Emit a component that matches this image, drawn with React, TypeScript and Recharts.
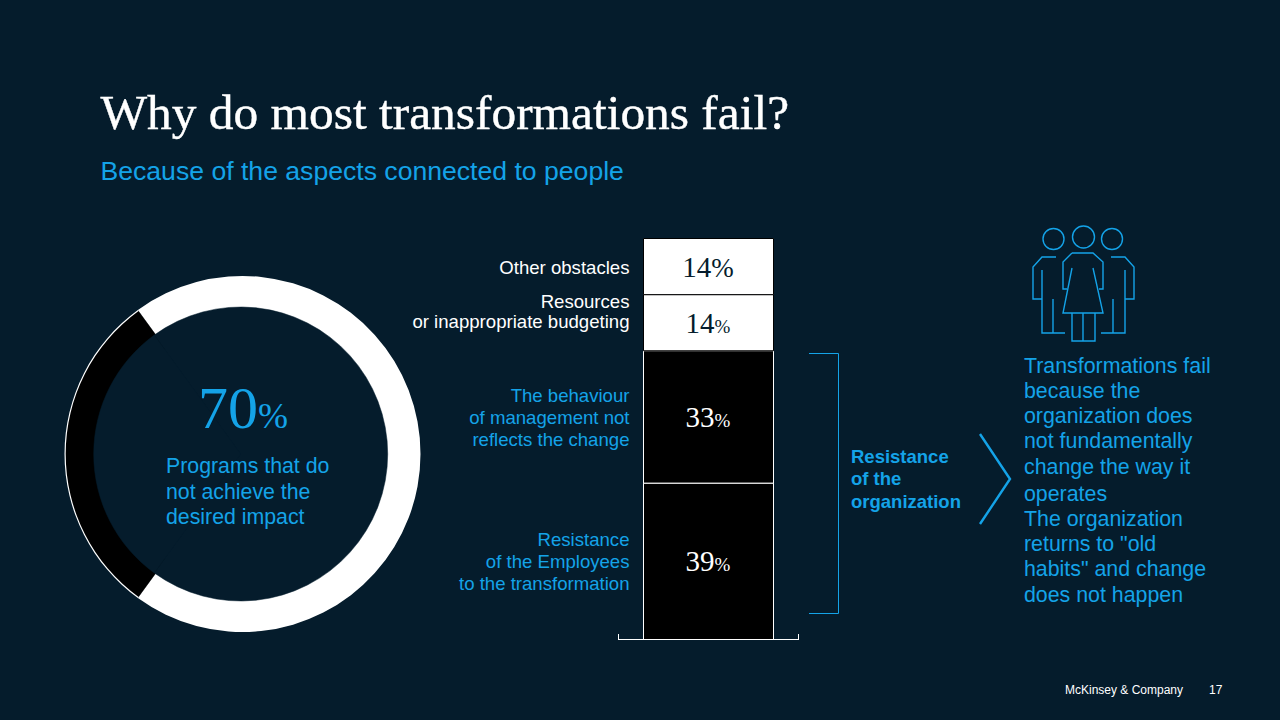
import React from "react";
import { BarChart, Bar, XAxis, YAxis, LabelList, PieChart, Pie, Cell } from "recharts";

const outcomeNames = ["Programs that do not achieve the desired impact", "Other programs"];
const outcomeValues = [70, 30];
const stackCategory = ["Obstacles"];
const obstacleNames = ["Resistance of the Employees", "Behaviour of management", "Resources", "Other obstacles"];
const obstacleValues = [39, 33, 14, 14];

const pieData = outcomeNames.map((name, i) => ({ name, value: outcomeValues[i] }));
const barData = stackCategory.map((category) => {
  const row: Record<string, string | number> = { category };
  obstacleNames.forEach((n, i) => (row[n] = obstacleValues[i]));
  return row;
});

const BG = "#051c2c";
const BLUE = "#14a3e8";
const SANS = "'Liberation Sans', Arial, sans-serif";
const SERIF = "'Liberation Serif', serif";

const barStyles = [
  { fill: "#000000", stroke: "#ffffff", text: "#ffffff", pct: 19 },
  { fill: "#000000", stroke: "#ffffff", text: "#ffffff", pct: 19 },
  { fill: "#ffffff", stroke: "#000000", text: "#051c2c", pct: 19 },
  { fill: "#ffffff", stroke: "#000000", text: "#051c2c", pct: 27 },
];

const makeLabel = (i: number) => (props: any) => {
  const { x, y, width, height, value } = props;
  const s = barStyles[i];
  return (
    <text x={x + width / 2 - 0.5} y={y + height / 2 + 10} textAnchor="middle" fill={s.text} fontFamily={SERIF} fontSize={29}>
      {value}
      <tspan fontSize={s.pct}>%</tspan>
    </text>
  );
};

const lines = (arr: string[], x: number, ys: number[], size: number, fill: string, anchor: "start" | "end", weight = 400) =>
  arr.map((t, i) => (
    <text key={t} x={x} y={ys[i]} fontFamily={SANS} fontSize={size} fill={fill} textAnchor={anchor} fontWeight={weight}>
      {t}
    </text>
  ));

const rightText = [
  "Transformations fail", "because the", "organization does", "not fundamentally", "change the way it",
  "operates", "The organization", 'returns to "old', "habits\" and change", "does not happen",
];
const rightYs = [373, 398, 423, 448, 474, 501, 526, 551, 576, 602];

export default function App() {
  return (
    <div style={{ position: "fixed", left: 0, top: 0, width: 1280, height: 720, background: BG, overflow: "hidden" }}>
      <div style={{ position: "absolute", left: 52, top: 264 }}>
        <PieChart width={380} height={380} margin={{ top: 0, right: 0, bottom: 0, left: 0 }}>
          <Pie data={pieData} dataKey="value" cx={190.5} cy={190} innerRadius={130} outerRadius={178} startAngle={126} endAngle={-234} stroke="none" isAnimationActive={false}>
            <Cell fill="#ffffff" />
            <Cell fill="#ffffff" />
          </Pie>
          <Pie data={pieData} dataKey="value" cx={190.5} cy={190} innerRadius={130} outerRadius={176.8} startAngle={126} endAngle={-234} stroke="none" isAnimationActive={false}>
            <Cell fill="transparent" />
            <Cell fill="#000000" />
          </Pie>
          <Pie data={pieData} dataKey="value" cx={188.7} cy={190} innerRadius={0} outerRadius={147} startAngle={126} endAngle={-234} stroke={BG} strokeWidth={0.5} isAnimationActive={false}>
            <Cell fill={BG} />
            <Cell fill={BG} />
          </Pie>
        </PieChart>
      </div>

      <div style={{ position: "absolute", left: 618, top: 229 }}>
        <BarChart width={181} height={420} data={barData} margin={{ top: 9.5, right: 0.5, bottom: 8.5, left: 0.5 }} barSize={130}>
          <XAxis dataKey="category" tick={false} tickLine={false} height={1} axisLine={{ stroke: "#ffffff", strokeWidth: 1 }} />
          <YAxis hide domain={[0, 100]} />
          {obstacleNames.map((n, i) => (
            <Bar key={n} dataKey={n} stackId="a" fill={barStyles[i].fill} stroke={barStyles[i].stroke} strokeWidth={1} isAnimationActive={false}>
              <LabelList dataKey={n} content={makeLabel(i)} />
            </Bar>
          ))}
        </BarChart>
      </div>

      <svg width={1280} height={720} style={{ position: "absolute", left: 0, top: 0, pointerEvents: "none" }}>
        <text x={100.5} y={129} fontFamily={SERIF} fontSize={49.4} fill="#ffffff" stroke="#ffffff" strokeWidth={0.4}>Why do most transformations fail?</text>
        <text x={100.5} y={180} fontFamily={SANS} fontSize={26.6} fill={BLUE}>Because of the aspects connected to people</text>

        <text x={243} y={428} textAnchor="middle" fontFamily={SERIF} fontSize={60} fill={BLUE}>
          70<tspan fontSize={36}>%</tspan>
        </text>
        {lines(["Programs that do", "not achieve the", "desired impact"], 166, [473, 499, 524], 21.3, BLUE, "start")}

        {lines(["Other obstacles"], 629.5, [274], 18.6, "#ffffff", "end")}
        {lines(["Resources", "or inappropriate budgeting"], 629.5, [308, 328], 18.6, "#ffffff", "end")}
        {lines(["The behaviour", "of management not", "reflects the change"], 629.5, [402, 424, 446], 18.6, BLUE, "end")}
        {lines(["Resistance", "of the Employees", "to the transformation"], 629.5, [546, 568, 590], 18.6, BLUE, "end")}

        <g fill="none" stroke="#ffffff" strokeWidth={1}>
          <line x1={618.5} y1={634} x2={618.5} y2={640} />
          <line x1={798.5} y1={634} x2={798.5} y2={640} />
        </g>

        <polyline points="809,353.5 838.5,353.5 838.5,613.5 809,613.5" fill="none" stroke={BLUE} strokeWidth={1} />
        {lines(["Resistance", "of the", "organization"], 851, [463, 485, 508], 18.5, BLUE, "start", 700)}
        <polyline points="980,434 1010,479 980,524" fill="none" stroke={BLUE} strokeWidth={2.4} />
        {lines(rightText, 1024, rightYs, 21.35, BLUE, "start")}

        <g fill="none" stroke={BLUE} strokeWidth={1.4}>
          <circle cx={1053.5} cy={239} r={10.5} />
          <circle cx={1083.5} cy={237} r={11} />
          <circle cx={1112} cy={239} r={10.5} />
          <polyline points="1056,257 1042,257 1033,267 1033,299 1042,299" />
          <polyline points="1042,270 1042,333 1065,333" />
          <line x1={1053} y1={299} x2={1053} y2={333} />
          <polyline points="1111,257 1125,257 1134,267 1134,299 1125,299" />
          <polyline points="1125,270 1125,333 1101,333" />
          <line x1={1113} y1={299} x2={1113} y2={333} />
          <polyline points="1072,253 1063,262 1063,289 1067,289" />
          <polyline points="1072,253 1093,253 1103,262 1103,289 1099,289" />
          <polyline points="1072,268 1063,313 1103,313 1093,268" />
          <polyline points="1072,313 1072,341 1095,341 1095,313" />
          <line x1={1083} y1={313} x2={1083} y2={341} />
        </g>

        <text x={1065} y={694} fontFamily={SANS} fontSize={12} fill="#ffffff">McKinsey &amp; Company</text>
        <text x={1209} y={694} fontFamily={SANS} fontSize={12} fill="#ffffff">17</text>
      </svg>
    </div>
  );
}
